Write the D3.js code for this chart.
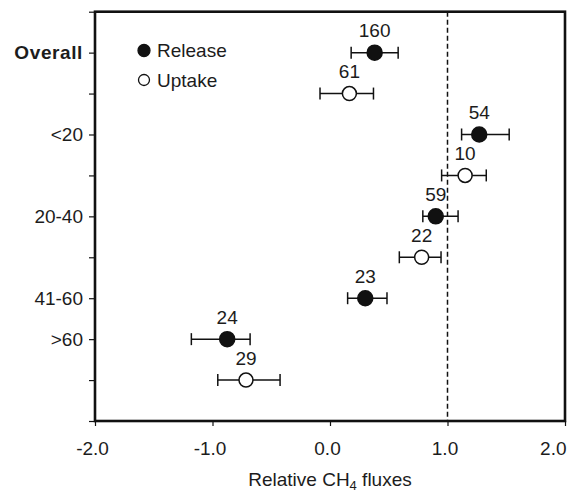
<!DOCTYPE html>
<html>
<head>
<meta charset="utf-8">
<script src="https://cdn.jsdelivr.net/npm/d3@7"></script>
<style>
  html, body { margin: 0; padding: 0; background: #fff; }
  svg { display: block; font-family: "Liberation Sans", Arial, Helvetica, sans-serif; }
</style>
</head>
<body>
<svg id="chart" width="577" height="493"></svg>
<script>
// ---- data ----
const categories = ["Overall", "<20", "20-40", "41-60", ">60"];
const releaseMean = [0.38, 1.27, 0.90, 0.30, -0.875];
const releaseLow  = [0.18, 1.12, 0.79, 0.15, -1.18];
const releaseHigh = [0.58, 1.525, 1.09, 0.485, -0.68];
const releaseN    = [160, 54, 59, 23, 24];
const uptakeMean  = [0.165, 1.15, 0.78, null, -0.715];
const uptakeLow   = [-0.085, 0.95, 0.59, null, -0.955];
const uptakeHigh  = [0.37, 1.33, 0.945, null, -0.425];
const uptakeN     = [61, 10, 22, null, 29];
const xTicks = [-2, -1, 0, 1, 2];
const xTickLabels = ["-2.0", "-1.0", "0.0", "1.0", "2.0"];
const seriesNames = ["Release", "Uptake"];
const referenceValue = 1.0;

(function () {
// ---- build rows ----
const rows = [];
const catRow = {};
let r = 1;
categories.forEach((c, i) => {
  catRow[r] = c;
  rows.push({ cat: c, type: "Release", mean: releaseMean[i], lo: releaseLow[i], hi: releaseHigh[i], n: releaseN[i], row: r++ });
  if (uptakeMean[i] !== null) {
    rows.push({ cat: c, type: "Uptake", mean: uptakeMean[i], lo: uptakeLow[i], hi: uptakeHigh[i], n: uptakeN[i], row: r++ });
  }
});
const nSlots = r; // 10

const svg = d3.select("#chart");
const pl = 95, pr = 565, pt = 11.7, pb = 421;
const ink = "#111";
const textCol = "#1c1c1c";
const fs = 19;

const x = d3.scaleLinear().domain([-2, 2]).range([pl, pr]);
const y = d3.scaleLinear().domain([0, nSlots]).range([pt, pb]);

// x axis
const xAxis = d3.axisBottom(x).tickValues(xTicks).tickSize(5).tickPadding(16)
  .tickFormat((d, i) => xTickLabels[i]);
const gx = svg.append("g").attr("transform", `translate(0,${pb})`).call(xAxis);
gx.select(".domain").remove();
gx.selectAll("line").attr("stroke", ink).attr("stroke-width", 1.2);
gx.selectAll("text").attr("font-size", fs).attr("fill", textCol)
  .attr("font-family", "Liberation Sans, Arial, sans-serif")
  .attr("dx", -3);
gx.selectAll(".tick").filter((d, i, n) => i === n.length - 1).select("text")
  .attr("text-anchor", "end").attr("dx", 1);

// y axis
const yAxis = d3.axisLeft(y).tickValues(d3.range(0, nSlots + 1)).tickSize(6).tickPadding(6)
  .tickFormat(d => catRow[d] || "");
const gy = svg.append("g").attr("transform", `translate(${pl},0)`).call(yAxis);
gy.select(".domain").remove();
gy.selectAll("line").attr("stroke", ink).attr("stroke-width", 1.2);
gy.selectAll("text").attr("font-size", fs).attr("fill", textCol)
  .attr("font-family", "Liberation Sans, Arial, sans-serif")
  .attr("font-weight", d => catRow[d] === "Overall" ? "bold" : "normal")
  .attr("letter-spacing", d => catRow[d] === "Overall" ? "0.6px" : null);

// reference dashed line
svg.append("line")
  .attr("x1", x(referenceValue)).attr("x2", x(referenceValue))
  .attr("y1", pt).attr("y2", pb)
  .attr("stroke", ink).attr("stroke-width", 1.5).attr("stroke-dasharray", "5,3");

// frame
svg.append("rect")
  .attr("x", pl).attr("y", pt).attr("width", pr - pl).attr("height", pb - pt)
  .attr("fill", "none").attr("stroke", ink).attr("stroke-width", 2.6);

// error bars
const eb = svg.append("g").selectAll("g").data(rows).join("g");
eb.append("line")
  .attr("x1", d => x(d.lo)).attr("x2", d => x(d.hi))
  .attr("y1", d => y(d.row)).attr("y2", d => y(d.row))
  .attr("stroke", ink).attr("stroke-width", 1.5);
eb.append("line")
  .attr("x1", d => x(d.lo)).attr("x2", d => x(d.lo))
  .attr("y1", d => y(d.row) - 6).attr("y2", d => y(d.row) + 6)
  .attr("stroke", ink).attr("stroke-width", 1.5);
eb.append("line")
  .attr("x1", d => x(d.hi)).attr("x2", d => x(d.hi))
  .attr("y1", d => y(d.row) - 6).attr("y2", d => y(d.row) + 6)
  .attr("stroke", ink).attr("stroke-width", 1.5);

// points
svg.append("g").selectAll("circle").data(rows).join("circle")
  .attr("cx", d => x(d.mean)).attr("cy", d => y(d.row))
  .attr("r", d => d.type === "Release" ? 7.5 : 7)
  .attr("fill", d => d.type === "Release" ? ink : "#fff")
  .attr("stroke", ink).attr("stroke-width", 1.5);

// n labels
svg.append("g").selectAll("text").data(rows).join("text")
  .attr("x", d => x(d.mean)).attr("y", d => y(d.row) - 15.5)
  .attr("text-anchor", "middle").attr("font-size", fs).attr("fill", textCol)
  .text(d => d.n);

// legend
const leg = svg.append("g").selectAll("g").data(seriesNames).join("g")
  .attr("transform", (d, i) => `translate(144,${50.5 + i * 29.5})`);
leg.append("circle")
  .attr("r", (d, i) => i === 0 ? 6 : 5.5)
  .attr("fill", (d, i) => i === 0 ? ink : "#fff")
  .attr("stroke", ink).attr("stroke-width", 1.3);
leg.append("text").attr("x", 13).attr("dy", "0.35em")
  .attr("font-size", fs).attr("fill", textCol).text(d => d);

// x axis title
const t = svg.append("text").attr("x", x(0)).attr("y", 486)
  .attr("text-anchor", "middle").attr("font-size", fs).attr("fill", textCol);
t.append("tspan").text("Relative CH");
t.append("tspan").attr("font-size", 13).attr("dy", 4).text("4");
t.append("tspan").attr("dy", -4).text(" fluxes");
})();
</script>
</body>
</html>
